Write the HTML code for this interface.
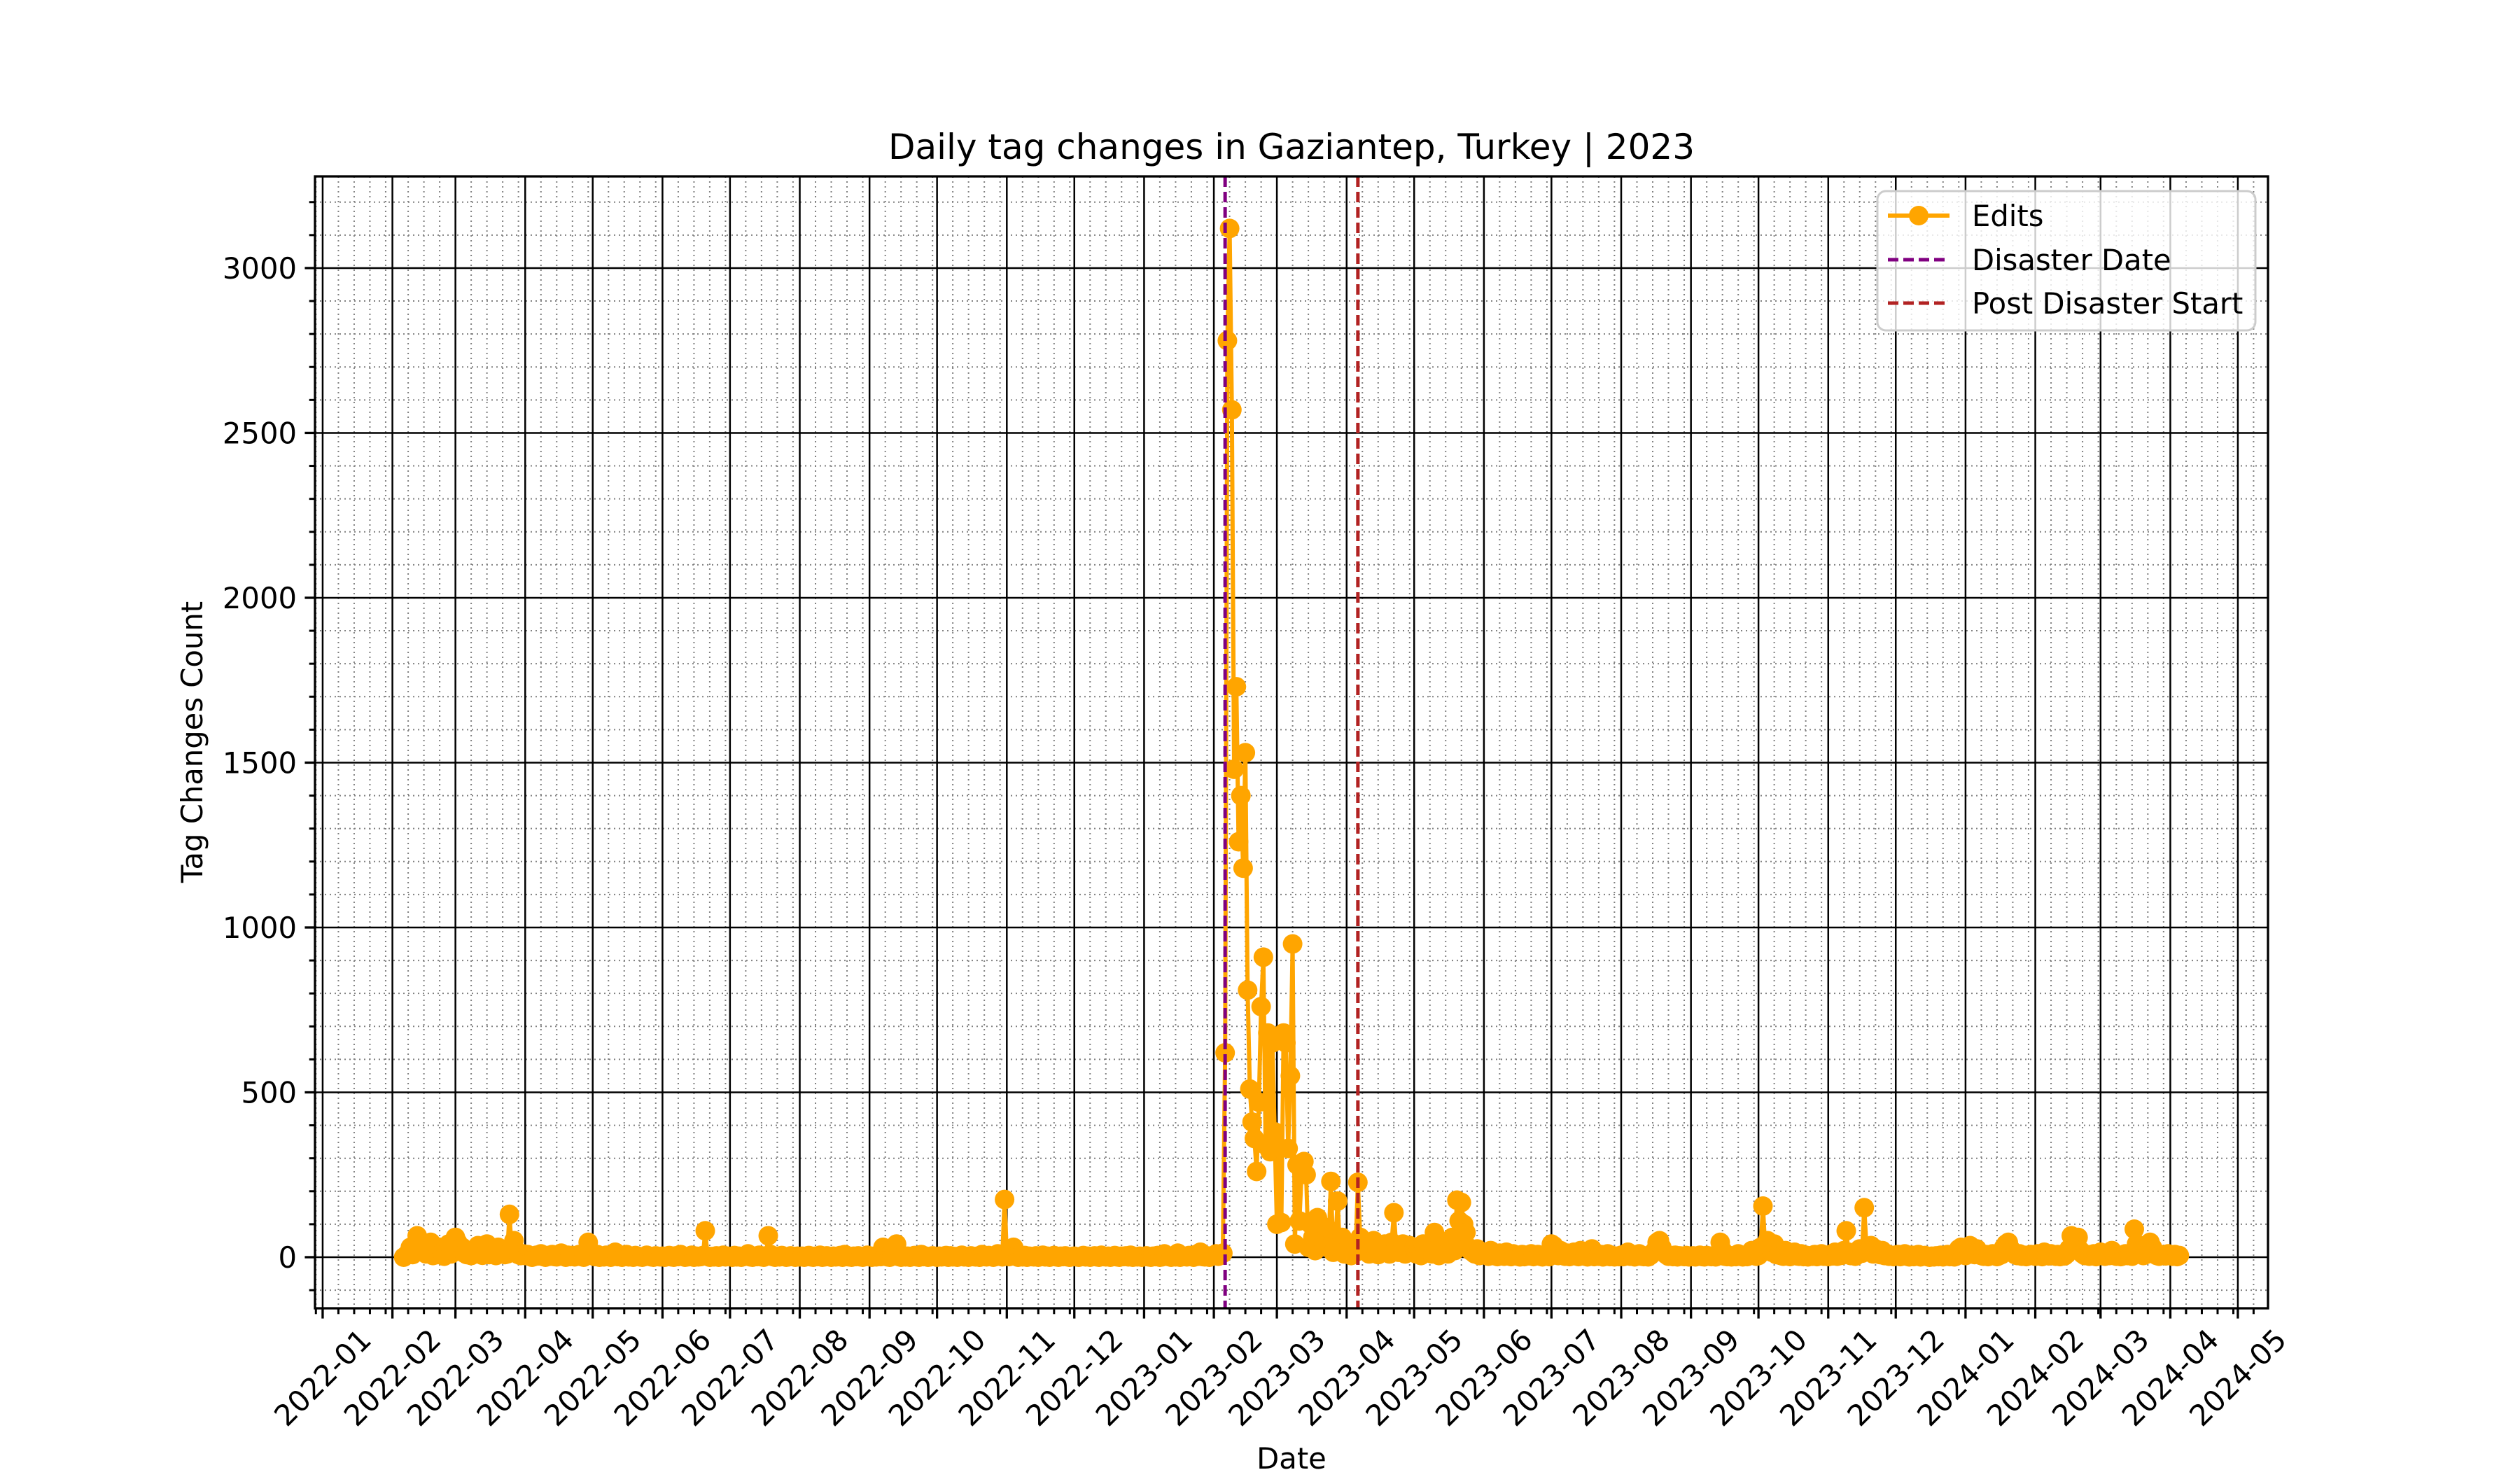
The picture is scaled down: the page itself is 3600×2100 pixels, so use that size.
<!DOCTYPE html>
<html><head><meta charset="utf-8"><style>
html,body{margin:0;padding:0;background:#fff;}
svg{display:block;}
text{font-family:"DejaVu Sans","Liberation Sans",sans-serif;fill:#000;}
</style></head><body>
<svg id="chart" xmlns="http://www.w3.org/2000/svg" width="3600" height="2100" viewBox="0 0 3600 2100">
<rect width="3600" height="2100" fill="#fff"/>
<defs><clipPath id="clip"><rect x="450" y="252" width="2790" height="1617"/></clipPath></defs>
<g id="grid"></g>
<g id="series" clip-path="url(#clip)"></g>
<g id="axes"></g>
<text x="1845" y="227" font-size="50" text-anchor="middle">Daily tag changes in Gaziantep, Turkey | 2023</text>
<text x="0" y="0" font-size="41.7" text-anchor="middle" transform="translate(289,1060) rotate(-90)">Tag Changes Count</text>
<text x="1845" y="2098" font-size="41.7" text-anchor="middle">Date</text>
<g id="legend">
<rect x="2682" y="273" width="540" height="199" rx="12" fill="#fff" fill-opacity="0.8" stroke="#cccccc" stroke-width="3"/>
<line x1="2697" y1="308" x2="2785" y2="308" stroke="#FFA500" stroke-width="6"/>
<circle cx="2741" cy="308" r="14" fill="#FFA500"/>
<text x="2817" y="323" font-size="41.7">Edits</text>
<line x1="2697" y1="371" x2="2785" y2="371" stroke="#800080" stroke-width="5" stroke-dasharray="15,7"/>
<text x="2817" y="386" font-size="41.7">Disaster Date</text>
<line x1="2697" y1="433" x2="2785" y2="433" stroke="#B22222" stroke-width="5" stroke-dasharray="15,7"/>
<text x="2817" y="448" font-size="41.7">Post Disaster Start</text>
</g>
</svg>
<script>
// ---- data ----
const monthKeys = ["2022-02","2022-03","2022-04","2022-05","2022-06","2022-07","2022-08","2022-09","2022-10","2022-11","2022-12","2023-01","2023-02","2023-03","2023-04","2023-05","2023-06","2023-07","2023-08","2023-09","2023-10","2023-11","2023-12","2024-01","2024-02","2024-03","2024-04"];
const monthFirstDay = [6,1,1,1,1,1,1,1,1,1,1,1,1,1,1,1,1,1,1,1,1,1,1,1,1,1,1];
const v2022_02 = [0,5,12,30,8,20,65,40,18,35,10,25,45,5,12,8,30,15,3,22,40,10,18];
const v2022_03 = [60,45,25,30,12,8,20,5,15,10,35,25,6,12,40,8,10,22,5,30,12,18,8,10,130,20,50,15,8,5,10];
const v2022_04 = [5,8,3,0,2,6,4,10,2,0,5,3,8,2,1,4,12,3,0,6,2,5,1,3,8,2,0,4,45,10];
const v2022_05 = [5,2,8,0,3,1,6,2,0,4,15,2,5,0,3,8,1,2,0,5,3,1,0,2,6,3,1,0,4,2,1];
const v2022_06 = [3,0,2,5,1,0,4,2,8,3,0,1,2,6,0,3,1,2,5,80,3,0,2,1,4,0,2,6,1,3];
const v2022_07 = [2,0,5,1,3,0,2,4,10,1,0,3,2,6,1,0,4,65,8,2,0,3,1,5,2,0,1,4,2,0,3];
const v2022_08 = [1,3,0,2,5,1,0,3,2,6,0,1,4,2,0,3,1,2,5,0,8,2,1,0,3,2,4,1,0,2,6];
const v2022_09 = [2,0,3,1,5,2,30,4,1,0,3,12,40,2,0,4,1,3,0,2,5,1,0,8,2,3,0,1,4,2];
const v2022_10 = [0,3,1,2,5,0,4,1,2,0,3,6,1,2,0,4,2,1,3,0,8,2,1,5,3,0,2,10,4,1,175];
const v2022_11 = [6,2,15,30,3,0,2,1,5,0,3,2,1,4,0,2,6,1,3,0,2,5,1,0,3,2,4,1,0,2];
const v2022_12 = [3,1,0,2,5,1,3,0,2,4,1,0,6,2,1,3,0,2,5,1,0,3,2,4,1,6,0,2,1,3,0];
const v2023_01 = [2,4,1,0,3,2,5,0,1,10,3,2,0,4,1,12,0,2,3,1,5,2,0,8,3,15,2,1,4,0,3];
const v2023_02 = [5,10,3,8,12,620,2780,3120,2570,1480,1730,1260,1400,1180,1530,810,510,410,360,260,470,760,910,340,680,320,650,380];
const v2023_03 = [100,330,105,680,650,330,550,950,40,280,110,260,290,250,30,100,60,20,120,80,50,40,90,30,230,15,40,170,25,60,10];
const v2023_04 = [20,35,5,40,15,227,60,30,45,20,10,35,50,25,8,30,15,40,20,10,45,135,30,15,25,40,10,20,35,15];
const v2023_05 = [30,10,25,5,40,20,15,35,10,75,20,5,30,15,25,10,40,60,20,173,110,166,100,75,30,20,15,10,25,5,10];
const v2023_06 = [8,15,3,20,5,10,2,12,6,3,15,8,2,10,5,3,1,8,2,6,4,10,2,5,8,3,1,4,6,2];
const v2023_07 = [40,35,10,5,20,8,3,12,2,6,15,4,2,20,8,3,1,5,25,2,6,3,8,1,4,10,2,5,1,3,2];
const v2023_08 = [6,2,4,15,3,8,1,5,10,3,2,4,1,6,12,20,45,50,30,15,8,3,5,2,6,1,4,3,2,5,1];
const v2023_09 = [2,4,1,3,6,2,1,5,3,2,4,1,8,45,20,3,2,5,1,4,2,10,3,1,5,2,8,20,15,3];
const v2023_10 = [5,30,155,20,50,30,15,40,8,12,5,3,20,6,2,8,15,4,3,10,2,6,1,4,3,8,2,5,10,3,6];
const v2023_11 = [2,8,4,15,3,10,6,20,80,15,5,8,3,10,25,12,150,30,20,35,10,25,15,8,20,5,10,3,6,2];
const v2023_12 = [4,8,2,5,10,3,1,6,2,4,8,1,3,5,2,0,3,1,4,2,6,1,3,8,2,5,1,4,25,30,10];
const v2024_01 = [5,20,35,10,8,25,15,5,3,8,2,6,10,4,2,5,8,30,40,45,25,15,8,5,10,3,6,2,4,8,5];
const v2024_02 = [3,10,6,2,15,8,4,10,5,3,8,2,6,4,10,25,65,60,30,60,20,10,5,8,3,6,10,2,5];
const v2024_03 = [15,8,3,10,5,20,8,3,6,2,4,10,5,8,3,85,40,20,10,5,8,15,45,30,10,5,3,8,6,4,10];
const v2024_04 = [6,3,8,2,5];
const monthValues = [v2022_02,v2022_03,v2022_04,v2022_05,v2022_06,v2022_07,v2022_08,v2022_09,v2022_10,v2022_11,v2022_12,v2023_01,v2023_02,v2023_03,v2023_04,v2023_05,v2023_06,v2023_07,v2023_08,v2023_09,v2023_10,v2023_11,v2023_12,v2024_01,v2024_02,v2024_03,v2024_04];
const disasterDate = "2023-02-06";
const postDisasterDate = "2023-04-06";
const yTicks = [0,500,1000,1500,2000,2500,3000];
const xTickLabels = ["2022-01","2022-02","2022-03","2022-04","2022-05","2022-06","2022-07","2022-08","2022-09","2022-10","2022-11","2022-12","2023-01","2023-02","2023-03","2023-04","2023-05","2023-06","2023-07","2023-08","2023-09","2023-10","2023-11","2023-12","2024-01","2024-02","2024-03","2024-04","2024-05"];

// ---- axes ----
const NS = "http://www.w3.org/2000/svg";
const L=450,R=3240,T=252,B=1869;
const DAY=86400000;
const t0=Date.UTC(2022,0,1)-3.4*DAY, t1=t0+867.8*DAY;
const yMin=-155, yMax=3278;
function parseD(s){const p=s.split("-").map(Number);return Date.UTC(p[0],p[1]-1,p[2]||1);}
function xs(t){return L+(t-t0)/(t1-t0)*(R-L);}
function ys(v){return B-(v-yMin)/(yMax-yMin)*(B-T);}
function mk(tag,attrs,parent){const e=document.createElementNS(NS,tag);for(const k in attrs)e.setAttribute(k,attrs[k]);parent.appendChild(e);return e;}
const grid=document.getElementById("grid"), axes=document.getElementById("axes"), series=document.getElementById("series");

for(let v=-100; v<=3200; v+=100){
  const y=ys(v);
  if(v%500!==0){
    const g=mk("line",{x1:L,x2:R,y1:y,y2:y,stroke:"#808080","stroke-width":2,"stroke-dasharray":"2,5"},grid);
    
    
    const tk=mk("line",{x1:L-8.3,x2:L,y1:y,y2:y,stroke:"#000","stroke-width":3},axes);
    
    
  }
}
for(let yr=2021; yr<=2024; yr++){for(let m=0;m<12;m++){for(const d of [8,15,22,29]){
  const t=Date.UTC(yr,m,d); if(t<t0||t>t1) continue;
  const x=xs(t);
  const g=mk("line",{x1:x,x2:x,y1:T,y2:B,stroke:"#808080","stroke-width":2,"stroke-dasharray":"2,5"},grid);
  
  
  const tk=mk("line",{x1:x,x2:x,y1:B,y2:B+8.3,stroke:"#000","stroke-width":3},axes);
  
  
}}}
yTicks.forEach(v=>{
  const y=ys(v);
  const g=mk("line",{x1:L,x2:R,y1:y,y2:y,stroke:"#000","stroke-width":2.5},grid);
  
  
  const tk=mk("line",{x1:L-14.6,x2:L,y1:y,y2:y,stroke:"#000","stroke-width":3.3},axes);
  
  
  const tx=mk("text",{x:L-26,y:y+15,"font-size":41.7,"text-anchor":"end"},axes);
  tx.textContent=String(v);
  
  
});
xTickLabels.forEach(s=>{
  const x=xs(parseD(s));
  const g=mk("line",{x1:x,x2:x,y1:T,y2:B,stroke:"#000","stroke-width":2.5},grid);
  
  
  const tk=mk("line",{x1:x,x2:x,y1:B,y2:B+14.6,stroke:"#000","stroke-width":3.3},axes);
  
  
  const tx=mk("text",{x:0,y:0,"font-size":41.7,"text-anchor":"middle","dominant-baseline":"central",transform:`translate(${x},1968) rotate(-45)`},axes);
  tx.textContent=s;
  
  
});
const sp=mk("rect",{x:L,y:T,width:R-L,height:B-T,fill:"none",stroke:"#000","stroke-width":3.3},axes);



const pts=[];
monthKeys.forEach((mk_,i)=>{
  const base=parseD(mk_+"-"+String(monthFirstDay[i]).padStart(2,"0"));
  monthValues[i].forEach((v,j)=>pts.push([xs(base+j*DAY),ys(v)]));
});
const line=mk("polyline",{points:pts.map(p=>p[0].toFixed(1)+","+p[1].toFixed(1)).join(" "),fill:"none",stroke:"#FFA500","stroke-width":6,"stroke-linejoin":"round"},series);


pts.forEach(p=>{
  const c=mk("circle",{cx:p[0].toFixed(1),cy:p[1].toFixed(1),r:14,fill:"#FFA500"},series);
  
  
});
const dx=xs(parseD(disasterDate));
const dl=mk("line",{x1:dx,x2:dx,y1:T,y2:B,stroke:"#800080","stroke-width":5,"stroke-dasharray":"15,7"},series);


const px=xs(parseD(postDisasterDate));
const pl=mk("line",{x1:px,x2:px,y1:T,y2:B,stroke:"#B22222","stroke-width":5,"stroke-dasharray":"15,7"},series);


</script>
</body></html>
